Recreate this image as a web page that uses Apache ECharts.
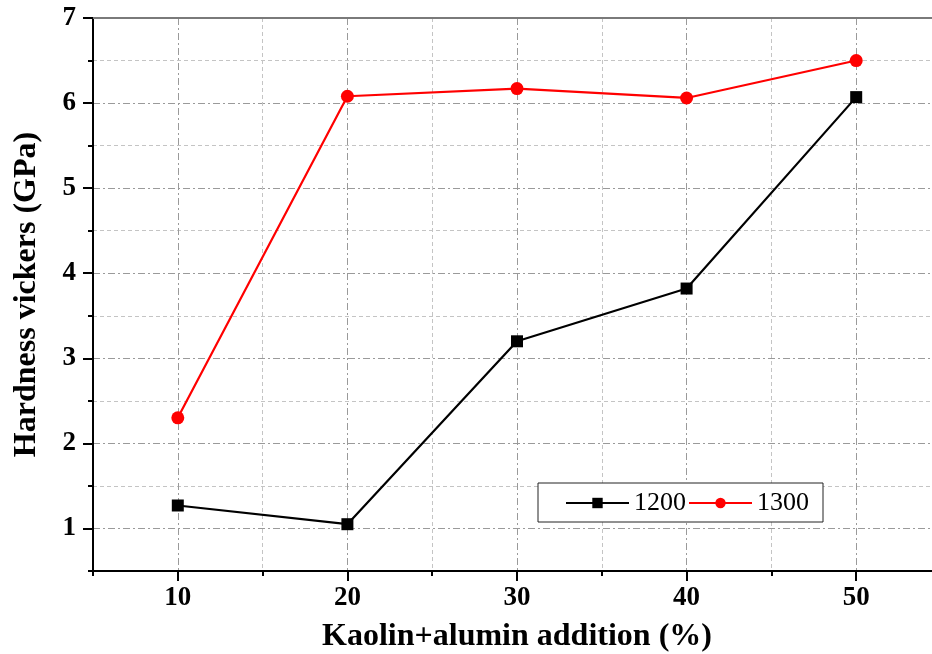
<!DOCTYPE html>
<html>
<head>
<meta charset="utf-8">
<style>
  html, body { margin: 0; padding: 0; background: #fff; }
  #chart { width: 932px; height: 654px; }
</style>
<script src="https://cdn.jsdelivr.net/npm/echarts@6/dist/echarts.min.js"></script>
</head>
<body>
<div id="chart"></div>
<script>
// Kaolin + alumina addition (%)
const additions = [10, 20, 30, 40, 50];
// Vickers hardness (GPa) after sintering at each temperature
const hardness1200 = [1.27, 1.05, 3.20, 3.82, 6.07];
const hardness1300 = [2.30, 6.08, 6.17, 6.06, 6.50];
const seriesNames = ['1200', '1300'];

// Tick positions
const xMajorTicks = [10, 20, 30, 40, 50];
const xMinorTicks = [5, 15, 25, 35, 45, 55];
const yMajorTicks = [1, 2, 3, 4, 5, 6, 7];
const yMinorTicks = [0.5, 1.5, 2.5, 3.5, 4.5, 5.5, 6.5];

const FONT = '"Liberation Serif", "Times New Roman", serif';
const X_MIN = 5, X_MAX = 55, Y_MIN = 0.5, Y_MAX = 7;

const chart = echarts.init(document.getElementById('chart'), null, { renderer: 'canvas' });

const majorGrid = { show: true, lineStyle: { color: '#9a9a9a', width: 1, type: [7, 3, 2, 3] } };
const minorGrid = { show: true, lineStyle: { color: '#c4c4c4', width: 1, type: [4, 3] } };

const option = {
  backgroundColor: '#fff',
  animation: false,
  // the frame runs on a little past the right edge of the canvas
  grid: { left: 93, right: -9, top: 18, bottom: 83, containLabel: false, outerBoundsMode: 'none' },
  legend: {
    data: seriesNames,
    left: 538, top: 483,
    orient: 'horizontal',
    itemWidth: 63, itemHeight: 13, itemGap: 2,
    padding: [7, 14, 6, 27],
    borderColor: '#222', borderWidth: 1,
    backgroundColor: '#fff',
    textStyle: { fontFamily: FONT, fontSize: 26, color: '#000' }
  },
  xAxis: [
    {
      // minor ticks and dashed minor grid
      type: 'value', min: X_MIN, max: X_MAX, position: 'bottom',
      axisLine: { show: false },
      axisTick: { show: true, customValues: xMinorTicks, length: 5, lineStyle: { color: '#000', width: 2 } },
      axisLabel: { show: false },
      splitLine: minorGrid
    },
    {
      // major ticks, labels and dash-dot major grid
      type: 'value', min: X_MIN, max: X_MAX, position: 'bottom',
      name: 'Kaolin+alumin addition (%)',
      nameLocation: 'middle', nameGap: 50,
      nameTextStyle: { fontFamily: FONT, fontSize: 32, fontWeight: 'bold', color: '#000' },
      axisLine: { show: true, onZero: false, lineStyle: { color: '#000', width: 2 } },
      axisTick: { show: true, customValues: xMajorTicks, length: 10, lineStyle: { color: '#000', width: 2 } },
      axisLabel: { show: true, customValues: xMajorTicks, margin: 14, fontFamily: FONT, fontSize: 27, fontWeight: 'bold', color: '#000' },
      splitLine: majorGrid
    },
    {
      // top frame
      type: 'value', min: X_MIN, max: X_MAX, position: 'top',
      axisLine: { show: true, onZero: false, lineStyle: { color: '#7a7a7a', width: 2 } },
      axisTick: { show: false }, axisLabel: { show: false }, splitLine: { show: false }
    }
  ],
  yAxis: [
    {
      type: 'value', min: Y_MIN, max: Y_MAX, position: 'left',
      axisLine: { show: false },
      axisTick: { show: true, customValues: yMinorTicks, length: 5, lineStyle: { color: '#000', width: 2 } },
      axisLabel: { show: false },
      splitLine: minorGrid
    },
    {
      type: 'value', min: Y_MIN, max: Y_MAX, position: 'left',
      name: 'Hardness vickers (GPa)',
      nameLocation: 'middle', nameGap: 50, nameRotate: 90,
      nameTextStyle: { fontFamily: FONT, fontSize: 32, fontWeight: 'bold', color: '#000' },
      axisLine: { show: true, onZero: false, lineStyle: { color: '#000', width: 2 } },
      axisTick: { show: true, customValues: yMajorTicks, length: 10, lineStyle: { color: '#000', width: 2 } },
      axisLabel: { show: true, customValues: yMajorTicks, margin: 17, fontFamily: FONT, fontSize: 27, fontWeight: 'bold', color: '#000' },
      splitLine: majorGrid
    }
  ],
  series: [
    {
      name: seriesNames[0], type: 'line',
      xAxisIndex: 1, yAxisIndex: 1,
      data: additions.map((x, i) => [x, hardness1200[i]]),
      symbol: 'rect', symbolSize: 12,
      lineStyle: { color: '#000', width: 2.2 },
      itemStyle: { color: '#000' },
      z: 5
    },
    {
      name: seriesNames[1], type: 'line',
      xAxisIndex: 1, yAxisIndex: 1,
      data: additions.map((x, i) => [x, hardness1300[i]]),
      symbol: 'circle', symbolSize: 13,
      lineStyle: { color: '#ff0000', width: 2.2 },
      itemStyle: { color: '#ff0000' },
      z: 5
    }
  ]
};

chart.setOption(option);
</script>
</body>
</html>
